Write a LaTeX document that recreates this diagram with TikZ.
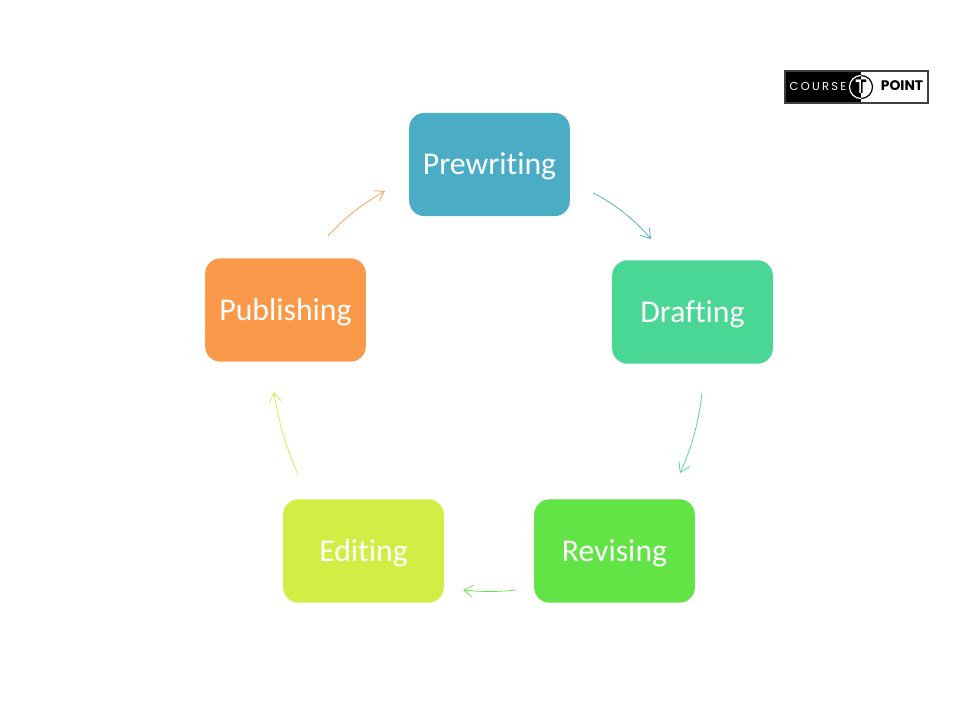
\documentclass[tikz,border=0pt]{standalone}
\usepackage{fontspec}
\setmainfont[Ligatures=NoCommon]{Carlito}
\newfontfamily\logofont[LetterSpace=20]{Poppins}
\newfontfamily\logobold[LetterSpace=0]{Poppins}
\usetikzlibrary{arrows.meta}
\tikzset{
  stagebox/.style={draw=none,rounded corners=11.5pt,minimum width=120.5pt,minimum height=77.5pt,inner sep=0pt,text=white,text height=20.2pt,text depth=4.8pt,font=\fontsize{23.8}{27}\selectfont},
  link/.style={line width=0.55pt,-{Straight Barb[length=7pt,width=9pt,line width=0.55pt]}},
  logotext/.style={inner sep=0pt,anchor=base}
}
\definecolor{cpre}{HTML}{4BACC6}
\definecolor{cdra}{HTML}{4AD795}
\definecolor{crev}{HTML}{62E346}
\definecolor{cedi}{HTML}{D1EE45}
\definecolor{cpub}{HTML}{F99949}
\begin{document}
\begin{tikzpicture}[x=0.75pt,y=-0.75pt]
\useasboundingbox (0,0) rectangle (960,720);
\fill[white] (0,0) rectangle (960,720);
\node[stagebox,fill=cpre] (pre) at (489.5,164.5) {Prewriting};
\node[stagebox,fill=cdra] (dra) at (692.5,312) {Drafting};
\node[stagebox,fill=crev] (rev) at (614.5,551) {Revising};
\node[stagebox,fill=cedi] (edi) at (363.5,551) {Editing};
\node[stagebox,fill=cpub] (pub) at (285.5,310) {Publishing};
\coordinate (a1) at (593,193); \coordinate (a2) at (651,239);
\coordinate (b1) at (702,393); \coordinate (b2) at (680,473);
\coordinate (c1) at (516,590); \coordinate (c2) at (463,590);
\coordinate (d1) at (298,474); \coordinate (d2) at (274,392);
\coordinate (e1) at (328,236); \coordinate (e2) at (385,191);
\draw[link,draw=cpre] (a1) .. controls (615,204) and (635,220) .. (a2);
\draw[link,draw=cdra] (b1) .. controls (699,420) and (692,448) .. (b2);
\draw[link,draw=crev] (c1) .. controls (499,592) and (481,592) .. (c2);
\draw[link,draw=cedi] (d1) .. controls (286,448) and (278,420) .. (d2);
\draw[link,draw=cpub] (e1) .. controls (345,217) and (364,203) .. (e2);
% logo
\fill[black] (785,71) rectangle (861,103);
\draw[black!75,line width=0.8pt] (785,71) rectangle (928,103);
\node[logotext,text=white,font=\logofont\fontsize{8.6}{10}\selectfont] (course) at (818,90.2) {COURSE};
\begin{scope}
\clip (861,60) rectangle (880,110);
\draw[black,line width=0.9pt] (861,87) circle (11.5);
\end{scope}
\begin{scope}
\clip (840,60) rectangle (861,110);
\draw[white,line width=0.9pt] (861,87) circle (11.5);
\end{scope}
\begin{scope}
\clip (840,60) rectangle (861,110);
\node[inner sep=0pt,text=white,font=\logobold\bfseries\fontsize{14.5}{14}\selectfont] (teew) at (861,87) {T};
\end{scope}
\begin{scope}
\clip (861,60) rectangle (880,110);
\node[inner sep=0pt,text=black,font=\logobold\bfseries\fontsize{14.5}{14}\selectfont] (teek) at (861,87) {T};
\end{scope}
\node[logotext,text=black,font=\logobold\bfseries\fontsize{10.4}{12}\selectfont] (point) at (902,90.8) {POINT};
\end{tikzpicture}
\end{document}
